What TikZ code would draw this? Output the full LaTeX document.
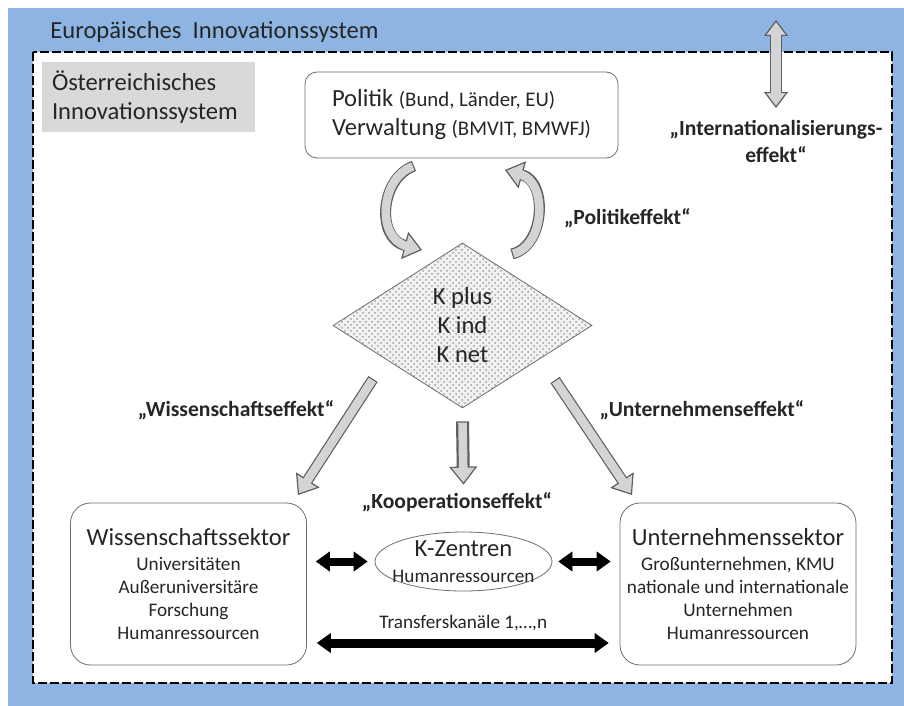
\documentclass[tikz,border=0pt]{standalone}
\usepackage{fontspec}
\setmainfont{Carlito}
\usetikzlibrary{arrows.meta,shapes.geometric,patterns,positioning}

\definecolor{eublue}{RGB}{141,180,226}
\definecolor{boxgray}{RGB}{217,217,217}
\definecolor{arrowfill}{RGB}{212,212,212}
\definecolor{arrowline}{RGB}{95,95,95}
\definecolor{frame}{RGB}{110,110,110}
\definecolor{txt}{RGB}{38,38,38}

\newcommand\bigtxt{\fontsize{12.3}{14.5}\selectfont}
\newcommand\smalltxt{\fontsize{9.6}{11.5}\selectfont}
\newcommand\efftxt{\fontsize{10.8}{13.5}\selectfont\bfseries}

\begin{document}
\begin{tikzpicture}[
x=0.5pt,y=-0.5pt,
sector/.style={draw=frame,fill=white,rounded corners=10pt,minimum width=118pt,minimum height=81pt,align=center,text=txt,font=\smalltxt},
effect/.style={font=\efftxt,text=txt,align=center},
gblock/.style={line width=5.5pt,draw=arrowline,-{Triangle[length=9pt,width=14pt,line width=0.6pt,fill=arrowfill]},
  postaction={draw=arrowfill,line width=4.3pt,arrows=-,shorten <=0.6pt,shorten >=8pt}},
gtwin/.style={line width=6pt,draw=arrowline,{Triangle[length=8pt,width=12pt,line width=0.6pt,fill=arrowfill]}-{Triangle[length=8pt,width=12pt,line width=0.6pt,fill=arrowfill]},
  postaction={draw=arrowfill,line width=4.8pt,arrows=-,shorten <=7pt,shorten >=7pt}},
barrow/.style={line width=4pt,black,{Triangle[length=7pt,width=10pt,line width=0.4pt]}-{Triangle[length=7pt,width=10pt,line width=0.4pt]}}
]
\useasboundingbox (0,0) rectangle (904,706);

% European and Austrian system
\fill[eublue] (8,8) rectangle (904,706);
\draw[fill=white,line width=1.2pt,dash pattern=on 4.5pt off 1.5pt] (33,52) rectangle (892,683);
\node[anchor=west,inner sep=0pt,font=\bigtxt,text=txt] (eu) at (50,32) {Europäisches~ Innovationssystem};
\node[fill=boxgray,text width=96.5pt,inner xsep=5pt,minimum height=35pt,align=left,font=\bigtxt,text=txt] (at) at (148.5,97) {Österreichisches\\Innovationssystem};

% nodes
\node[draw=frame,fill=white,rounded corners=6pt,minimum width=156.5pt,minimum height=43pt,align=left,font=\bigtxt,text=txt] (pol) at (461.5,115)
  {Politik {\fontsize{10.4}{14.5}\selectfont(Bund, Länder, EU)}\\Verwaltung {\fontsize{10.4}{14.5}\selectfont(BMVIT, BMWFJ)}};
\node[diamond,draw=frame,minimum width=129.5pt,minimum height=82.5pt,inner sep=0pt,
  preaction={fill=gray!10},pattern=crosshatch dots,pattern color=gray!75,align=center,font=\bigtxt,text=txt] (kprog) at (462.5,325.5) {K plus\\K ind\\K net};
\node[sector] (wiss) at (188.5,584) {{\bigtxt Wissenschaftssektor}\\[1pt]Universitäten\\Außeruniversitäre\\Forschung\\Humanressourcen};
\node[sector] (unt) at (738,584) {{\bigtxt Unternehmenssektor}\\[1pt]Großunternehmen, KMU\\nationale und internationale\\Unternehmen\\Humanressourcen};
\node[ellipse,draw=frame,fill=white,minimum width=88.5pt,minimum height=29.5pt,inner sep=-5pt,align=center,font=\bigtxt,text=txt] (kz) at (463.5,561.5)
  {K-Zentren\\[-1.5pt]{\smalltxt Humanressourcen}};

% effects
\node[effect,anchor=west] (poleff) at (557,218) {„Politikeffekt“};
\node[effect] (inteff) at (776,141) {„Internationalisierungs-\\effekt“};
\node[effect] (wisseff) at (236,410) {„Wissenschaftseffekt“};
\node[effect] (unteff) at (702,410) {„Unternehmenseffekt“};
\node[effect] (koopeff) at (457,502) {„Kooperationseffekt“};

% arrow ends
\coordinate (ltail) at (414,166);
\coordinate (ltip) at (422,250);
\coordinate (rtail) at (512,254);
\coordinate (rtip) at (505,170);
\coordinate (wtail) at (373,379);
\coordinate (wtip) at (298,495);
\coordinate (utail) at (555,380);
\coordinate (utip) at (632,495);
\path (kprog.south) ++(0,13) coordinate (ktail);
\path (kz.north) ++(0,-47) coordinate (ktip);
\coordinate (itop) at (776,20);
\coordinate (ibot) at (776,108);
\coordinate (tk) at (463,643);

\draw[gblock] (ltail) .. controls (380,178) and (376,238) .. (ltip);
\draw[gblock] (rtail) .. controls (545,246) and (548,182) .. (rtip);
\draw[gblock] (wtail) -- (wtip);
\draw[gblock] (utail) -- (utip);
\draw[gblock,line width=6.5pt] (ktail) -- (ktip);
\draw[gtwin] (itop) -- (ibot);

\draw[barrow,shorten <=4.5pt,shorten >=3.5pt] (wiss.east |- kz.west) -- (kz.west);
\draw[barrow,shorten <=3pt,shorten >=4.5pt] (kz.east) -- (unt.west |- kz.east);
\draw[barrow,line width=4.5pt,shorten <=5pt,shorten >=5.5pt] (wiss.east |- tk) -- (unt.west |- tk)
  node[midway,yshift=10pt,font=\smalltxt,text=txt] (tkl) {Transferskanäle 1,…,n};

\end{tikzpicture}
\end{document}
